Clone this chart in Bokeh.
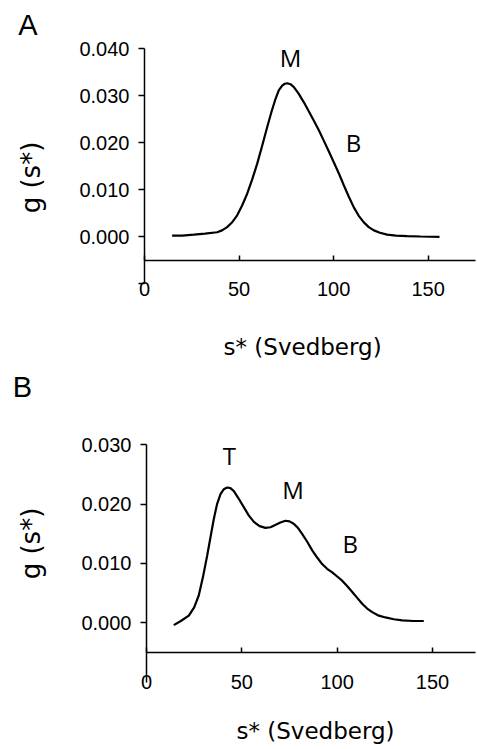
import numpy as np
from bokeh.plotting import figure
from bokeh.models import Label, FixedTicker
from bokeh.layouts import column
from bokeh.embed import file_html
from bokeh.resources import INLINE
from bokeh.core.properties import value

# ---------------- data ----------------
a_s = [14.6, 20.0, 26.1, 32.0, 38.4, 41.0, 43.7, 46.5, 49.0, 51.5, 54.3, 57.0, 59.6,
       62.3, 64.9, 67.2, 69.3, 71.0, 72.8, 74.2, 75.5, 77.2, 79.0, 81.5, 84.2,
       86.8, 89.5, 92.2, 94.8, 97.5, 100.1, 102.8, 105.4, 108.0, 110.7, 113.3,
       116.0, 118.6, 121.3, 124.5, 128.3, 133.0, 138.9, 146.0, 156.0]
a_g = [0.0002, 0.0002, 0.0004, 0.0006, 0.0009, 0.0013, 0.0020, 0.0031, 0.0045, 0.0065,
       0.0091, 0.0122, 0.0155, 0.0194, 0.0233, 0.0266, 0.0293, 0.0311, 0.0321, 0.0325,
       0.0326, 0.0324, 0.0318, 0.0304, 0.0286, 0.0267, 0.0247, 0.0226, 0.0204, 0.0181,
       0.0158, 0.0134, 0.0109, 0.0085, 0.0062, 0.0044, 0.0030, 0.0020, 0.0013, 0.0008,
       0.0004, 0.0002, 0.0001, 0.0000, -0.0001]

b_s = [14.3, 18.0, 22.2, 25.0, 27.4, 29.6, 31.8, 33.6, 35.3, 37.0, 38.8, 40.5, 42.3,
       44.0, 45.8, 48.4, 51.0, 53.6, 56.3, 59.3, 62.4, 65.0, 67.5, 70.2, 72.9, 75.0,
       77.2, 79.4, 81.6, 84.2, 86.9, 89.5, 92.1, 94.7, 97.4, 100.0, 102.6, 105.2,
       107.9, 110.5, 113.1, 115.7, 118.4, 121.8, 125.3, 129.7, 134.1, 140.0, 145.4]
b_g = [-0.0004, 0.0003, 0.0012, 0.0026, 0.0046, 0.0077, 0.0113, 0.0145, 0.0175, 0.0200,
       0.0217, 0.0225, 0.0228, 0.0227, 0.0222, 0.0209, 0.0195, 0.0181, 0.0170, 0.0163,
       0.0160, 0.0161, 0.0165, 0.0169, 0.0172, 0.0171, 0.0167, 0.0160, 0.0150, 0.0137,
       0.0122, 0.0110, 0.0099, 0.0091, 0.0085, 0.0078, 0.0071, 0.0062, 0.0052, 0.0042,
       0.0032, 0.0024, 0.0018, 0.0012, 0.0009, 0.0006, 0.0004, 0.0003, 0.0003]

x_ticks = [0, 50, 100, 150]
x_tick_labels = ["0", "50", "100", "150"]

a_y_ticks = [-0.010, 0.000, 0.010, 0.020, 0.030, 0.040]
a_y_tick_labels = ["", "0.000", "0.010", "0.020", "0.030", "0.040"]
b_y_ticks = [0.000, 0.010, 0.020, 0.030]
b_y_tick_labels = ["0.000", "0.010", "0.020", "0.030"]

a_peaks = ["M", "B"]
a_peak_s = [77.2, 110.5]
a_peak_g = [0.0381, 0.0201]
b_peaks = ["T", "M", "B"]
b_peak_s = [43.5, 76.9, 106.8]
b_peak_g = [0.0282, 0.0225, 0.0133]

x_title = "s* (Svedberg)"
y_title = "g (s*)"

TICK_FONT = "Liberation Sans"
TITLE_FONT = "DejaVu Sans"
PEAK_FONT = "Open Sans"

WIDTH = 477


def make_panel(s, g, yticks, ylabels, peaks, peak_s, peak_g, letter,
               height, x0_px, x_scale, ytop_val, ytop_px, y_scale,
               x_end, y_bounds, axis_y, standoff, letter_pos, ytitle_pos, xtitle_pos):
    # ranges so that the whole canvas is the plotting frame
    x_range = (-x0_px / x_scale, (WIDTH - x0_px) / x_scale)
    y_range = (ytop_val - (height - ytop_px) / y_scale, ytop_val + ytop_px / y_scale)
    p = figure(width=WIDTH, height=height, x_range=x_range, y_range=y_range,
               output_backend="svg", toolbar_location=None,
               min_border=0, min_border_left=0, min_border_right=0,
               min_border_top=0, min_border_bottom=0)
    p.outline_line_color = None
    p.grid.grid_line_color = None
    p.background_fill_color = "white"
    p.border_fill_color = "white"

    # y axis at s* = 0
    ya = p.yaxis[0]
    ya.fixed_location = 0
    ya.bounds = y_bounds
    ya.ticker = FixedTicker(ticks=yticks)
    ya.major_label_overrides = {t: l for t, l in zip(yticks, ylabels)}
    ya.minor_tick_line_color = None
    ya.major_tick_in = 0
    ya.major_tick_out = 6
    ya.major_tick_line_width = 1.5
    ya.axis_line_width = 1.5
    ya.axis_line_color = "black"
    ya.major_tick_line_color = "black"
    ya.major_label_standoff = 9
    ya.major_label_text_font = TICK_FONT
    ya.major_label_text_font_size = "20px"
    ya.major_label_text_color = "black"

    # x axis at g = -0.005, ticks pointing up
    xa = p.xaxis[0]
    xa.fixed_location = axis_y
    xa.bounds = (0, x_end)
    xa.ticker = FixedTicker(ticks=x_ticks)
    xa.major_label_overrides = {t: l for t, l in zip(x_ticks, x_tick_labels)}
    xa.axis_line_color = "black"
    xa.axis_line_width = 1.5
    xa.major_tick_line_color = "black"
    xa.major_tick_line_width = 1.5
    xa.minor_tick_line_color = None
    xa.major_tick_in = 5
    xa.major_tick_out = 0
    xa.major_label_standoff = standoff
    xa.major_label_text_font = TICK_FONT
    xa.major_label_text_font_size = "20px"
    xa.major_label_text_color = "black"

    p.line(s, g, line_color="black", line_width=2.2)

    p.text(x=peak_s, y=peak_g, text=peaks, text_font=value(PEAK_FONT),
           text_font_size="24px", text_align="center", text_baseline="middle",
           text_color="black")

    p.add_layout(Label(x=letter_pos[0], y=letter_pos[1], text=letter,
                       text_font=TICK_FONT, text_font_size="29px",
                       text_align="center", text_baseline="middle",
                       text_color="black"))
    p.add_layout(Label(x=ytitle_pos[0], y=ytitle_pos[1], text=y_title,
                       angle=np.pi / 2, text_font=TITLE_FONT, text_font_size="26px",
                       text_align="center", text_baseline="middle",
                       text_color="black"))
    p.add_layout(Label(x=xtitle_pos[0], y=xtitle_pos[1], text=x_title,
                       text_font=TITLE_FONT, text_font_size="23px",
                       text_align="center", text_baseline="middle",
                       text_color="black"))
    return p


pA = make_panel(a_s, a_g, a_y_ticks, a_y_tick_labels, a_peaks, a_peak_s, a_peak_g, "A",
                height=364, x0_px=144, x_scale=1.891, ytop_val=0.040, ytop_px=48,
                y_scale=4700, x_end=175.0, y_bounds=(-0.010, 0.040), axis_y=-0.005,
                standoff=22, letter_pos=(-61.6, 0.0451), ytitle_pos=(-59.8, 0.01255),
                xtitle_pos=(83.6, -0.0236))
pB = make_panel(b_s, b_g, b_y_ticks, b_y_tick_labels, b_peaks, b_peak_s, b_peak_g, "B",
                height=385, x0_px=146, x_scale=1.907, ytop_val=0.030, ytop_px=80.3,
                y_scale=5933, x_end=172.5, y_bounds=(-0.010, 0.030), axis_y=-0.005,
                standoff=23, letter_pos=(-65.0, 0.03966), ytitle_pos=(-60.8, 0.01336),
                xtitle_pos=(88.6, -0.01832))

layout = column(pA, pB, spacing=0)
open("out.html", "w").write(file_html(layout, INLINE))
